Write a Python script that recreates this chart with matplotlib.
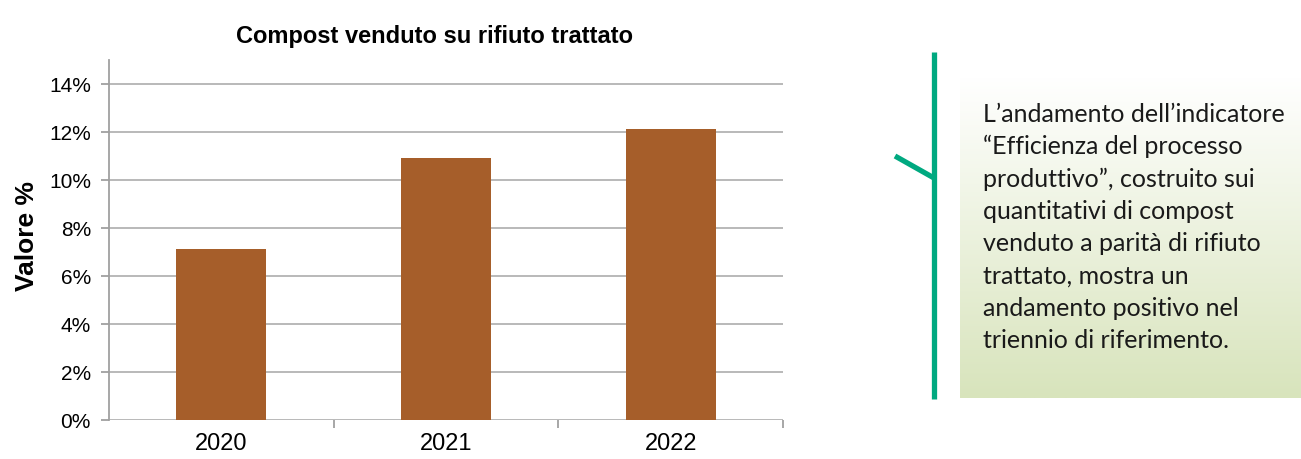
import matplotlib
matplotlib.use("Agg")
import matplotlib.pyplot as plt
import numpy as np
from matplotlib.lines import Line2D
from matplotlib.ticker import FuncFormatter, FixedLocator

categories = ["2020", "2021", "2022"]
values = [0.071, 0.109, 0.121]
yticks = [0, 0.02, 0.04, 0.06, 0.08, 0.10, 0.12, 0.14]
title = "Compost venduto su rifiuto trattato"
ylabel = "Valore %"
box_lines = [
    "L\u2019andamento dell\u2019indicatore",
    "\u201cEfficienza del processo",
    "produttivo\u201d, costruito sui",
    "quantitativi di compost",
    "venduto a parit\u00e0 di rifiuto",
    "trattato, mostra un",
    "andamento positivo nel",
    "triennio di riferimento.",
]

W, H = 1301, 460
fig = plt.figure(figsize=(W / 100, H / 100), dpi=100)
plt.rcParams['font.family'] = ['Liberation Sans', 'DejaVu Sans']

def fx(px):
    return px / W

def fy(py):
    return 1 - py / H

ax = fig.add_axes([fx(109), fy(420.7), fx(783) - fx(109), fy(60.7) - fy(420.7)])
x = np.arange(len(categories))
ax.bar(x, values, width=0.4, color='#A65E2A', zorder=3)
ax.set_xlim(-0.5, 2.5)
ax.set_ylim(0, 0.15)
ax.yaxis.set_major_locator(FixedLocator(yticks))
ax.yaxis.set_major_formatter(FuncFormatter(lambda v, p: f"{v*100:.0f}%"))
ax.grid(axis='y', color='#B3B3B3', linewidth=1.3, zorder=0)
ax.set_xticks(x)
ax.set_xticklabels(categories, fontsize=17)
ax.set_xticks([0.5, 1.5, 2.5], minor=True)
ax.tick_params(axis='x', which='major', length=0, pad=9)
ax.tick_params(axis='x', which='minor', length=6, color='#A0A0A0', width=1.3)
ax.tick_params(axis='y', length=6, color='#A0A0A0', width=1.3, labelsize=15, pad=7)
for s in ['top', 'right', 'bottom']:
    ax.spines[s].set_visible(False)
ax.spines['left'].set_color('#A0A0A0')
ax.spines['left'].set_linewidth(1.3)
ax.set_title(title, fontsize=17, fontweight='bold', pad=13, x=(435 - 109) / 674)
fig.text(fx(27), fy(236), ylabel, fontsize=19, fontweight='bold', rotation=90,
         ha='center', va='center')

# gradient box
bx = fig.add_axes([fx(960), fy(399), fx(1301) - fx(960), fy(78) - fy(399)])
c0 = np.array([1.0, 1.0, 1.0])
c1 = np.array([0xD8, 0xE4, 0xBC]) / 255.0
t = np.linspace(0, 1, 256)[:, None]
grad = (c0[None, :] * (1 - t) + c1[None, :] * t)[:, None, :]
bx.imshow(grad, aspect='auto', extent=[0, 1, 0, 1], origin='upper')
bx.set_axis_off()

# green lines
green = '#00A980'
fig.add_artist(Line2D([fx(934), fx(934)], [fy(52.5), fy(399.5)], color=green, linewidth=3.8, solid_capstyle='butt'))
fig.add_artist(Line2D([fx(895), fx(934)], [fy(157), fy(179)], color=green, linewidth=3.8, solid_capstyle='butt'))

for i, line in enumerate(box_lines):
    fig.text(fx(983), fy(122 + i * 32.3), line, fontsize=18, family=['Lato', 'DejaVu Sans'],
             color='#1a1a1a', va='baseline', ha='left')

fig.savefig('out.png', dpi=100)
